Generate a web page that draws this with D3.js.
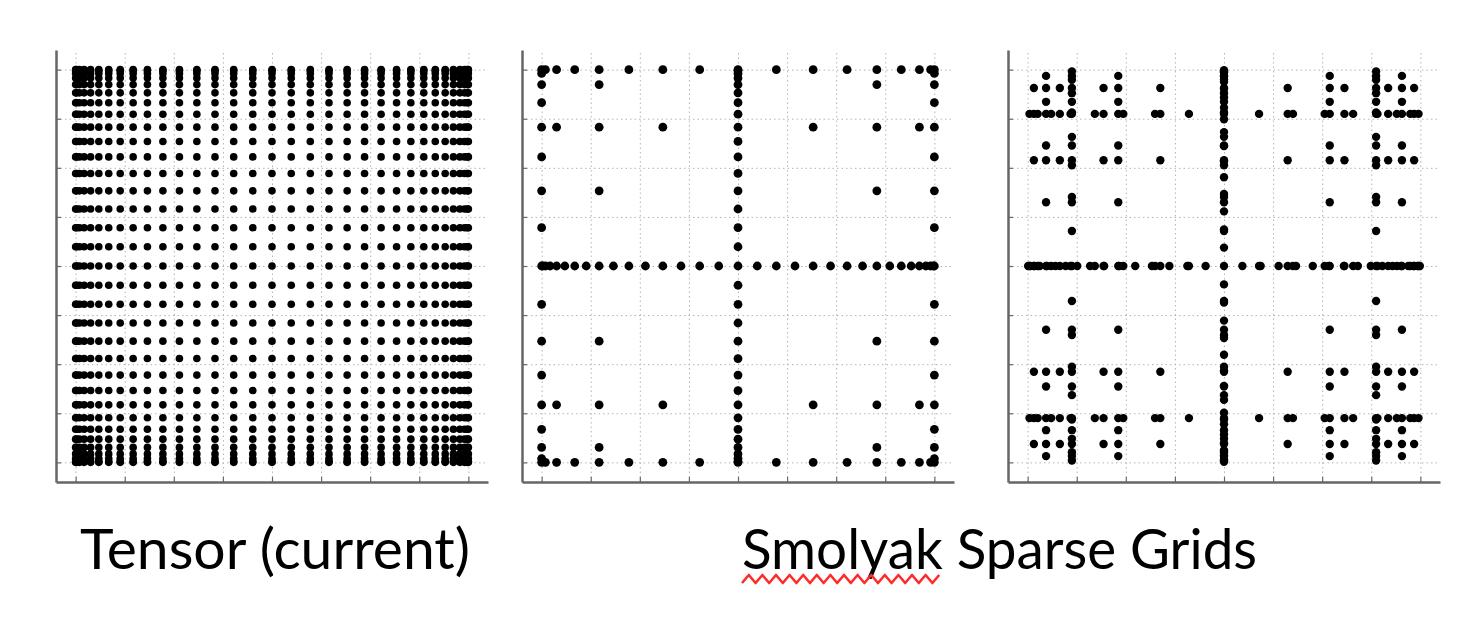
<!DOCTYPE html>
<html>
<head>
<meta charset="utf-8">
<script src="https://cdn.jsdelivr.net/npm/d3@7"></script>
<style>
  html, body { margin: 0; padding: 0; background: #ffffff; }
  svg { display: block; }
</style>
</head>
<body>
<svg id="chart" width="1474" height="618"></svg>
<script>
// ---------------- DATA ----------------
const tickValues = [-1, -0.75, -0.5, -0.25, 0, 0.25, 0.5, 0.75, 1];

// Clenshaw-Curtis (Chebyshev extrema) nodes, nested levels 0..5 (1,3,5,9,17,33 points)
const ccLevel0 = [0];
const ccLevel1 = [-1, 0, 1];
const ccLevel2 = [-1, -0.7071, 0, 0.7071, 1];
const ccLevel3 = [-1, -0.9239, -0.7071, -0.3827, 0, 0.3827, 0.7071, 0.9239, 1];
const ccLevel4 = [-1, -0.9808, -0.9239, -0.8315, -0.7071, -0.5556, -0.3827, -0.1951, 0,
                  0.1951, 0.3827, 0.5556, 0.7071, 0.8315, 0.9239, 0.9808, 1];
const ccLevel5 = [-1, -0.9952, -0.9808, -0.9569, -0.9239, -0.8819, -0.8315, -0.7730, -0.7071,
                  -0.6344, -0.5556, -0.4714, -0.3827, -0.2903, -0.1951, -0.0980, 0,
                  0.0980, 0.1951, 0.2903, 0.3827, 0.4714, 0.5556, 0.6344, 0.7071,
                  0.7730, 0.8315, 0.8819, 0.9239, 0.9569, 0.9808, 0.9952, 1];

// Gauss-Legendre nodes (non-nested), levels 0..5 (1,3,5,9,17,33 points)
const glLevel0 = [0];
const glLevel1 = [-0.7746, 0, 0.7746];
const glLevel2 = [-0.9062, -0.5385, 0, 0.5385, 0.9062];
const glLevel3 = [-0.9682, -0.8360, -0.6134, -0.3243, 0, 0.3243, 0.6134, 0.8360, 0.9682];
const glLevel4 = [-0.9906, -0.9488, -0.8802, -0.7815, -0.6577, -0.5127, -0.3512, -0.1785, 0,
                  0.1785, 0.3512, 0.5127, 0.6577, 0.7815, 0.8802, 0.9488, 0.9906];
const glLevel5 = [-0.9974, -0.9864, -0.9668, -0.9387, -0.9023, -0.8580, -0.8062, -0.7473,
                  -0.6818, -0.6104, -0.5336, -0.4521, -0.3668, -0.2782, -0.1866, -0.0936, 0,
                  0.0936, 0.1866, 0.2782, 0.3668, 0.4521, 0.5336, 0.6104, 0.6818,
                  0.7473, 0.8062, 0.8580, 0.9023, 0.9387, 0.9668, 0.9864, 0.9974];

const smolyakLevel = 5;
const captions = ["Tensor (current)", "Smolyak Sparse Grids"];
const misspelledWord = "Smolyak";

// ---------------- BUILD POINT SETS ----------------
const ccLevels = [ccLevel0, ccLevel1, ccLevel2, ccLevel3, ccLevel4, ccLevel5];
const glLevels = [glLevel0, glLevel1, glLevel2, glLevel3, glLevel4, glLevel5];

function tensor(xs, ys) {
  const pts = [];
  xs.forEach(x => ys.forEach(y => pts.push([x, y])));
  return pts;
}
function smolyak(levels, L) {
  const seen = new Map();
  for (let i = 0; i <= L; i++) {
    for (let j = 0; i + j <= L; j++) {
      tensor(levels[i], levels[j]).forEach(p => {
        const k = p[0].toFixed(4) + "," + p[1].toFixed(4);
        if (!seen.has(k)) seen.set(k, p);
      });
    }
  }
  return Array.from(seen.values());
}

const tensorPts = tensor(ccLevel5, ccLevel5);
const smolyakCCPts = smolyak(ccLevels, smolyakLevel);
const smolyakGLPts = smolyak(glLevels, smolyakLevel);

// ---------------- DRAW ----------------
const svg = d3.select("#chart");
const plotSize = 432, plotTop = 50;
const panels = [
  { left: 56,   pts: tensorPts,    r: 3.8 },
  { left: 522,  pts: smolyakCCPts, r: 4.4 },
  { left: 1008, pts: smolyakGLPts, r: 4.2 }
];

panels.forEach(p => {
  const x = d3.scaleLinear().domain([-1.1, 1.1]).range([p.left, p.left + plotSize]);
  const y = d3.scaleLinear().domain([-1.1, 1.1]).range([plotTop + plotSize, plotTop]);
  const g = svg.append("g");

  // dotted grid
  const gx = g.append("g")
    .attr("transform", `translate(0,${plotTop + plotSize})`)
    .call(d3.axisBottom(x).tickValues(tickValues).tickFormat("").tickSizeInner(-plotSize).tickSizeOuter(0));
  const gy = g.append("g")
    .attr("transform", `translate(${p.left},0)`)
    .call(d3.axisLeft(y).tickValues(tickValues).tickFormat("").tickSizeInner(-plotSize).tickSizeOuter(0));
  [gx, gy].forEach(a => {
    a.select(".domain").remove();
    a.selectAll(".tick line")
      .attr("stroke", "#b4b4b4").attr("stroke-width", 1).attr("stroke-dasharray", "1.5,3");
  });

  // points
  g.append("g").selectAll("circle")
    .data(p.pts)
    .join("circle")
    .attr("cx", d => x(d[0]))
    .attr("cy", d => y(d[1]))
    .attr("r", p.r)
    .attr("fill", "#000");

  // axes (left + bottom) with small inward ticks
  const ax = g.append("g")
    .attr("transform", `translate(0,${plotTop + plotSize})`)
    .call(d3.axisBottom(x).tickValues(tickValues).tickFormat("").tickSizeInner(-5).tickSizeOuter(0));
  const ay = g.append("g")
    .attr("transform", `translate(${p.left},0)`)
    .call(d3.axisLeft(y).tickValues(tickValues).tickFormat("").tickSizeInner(-5).tickSizeOuter(0));
  [ax, ay].forEach(a => {
    a.select(".domain").attr("stroke", "#666").attr("stroke-width", 2.5);
    a.selectAll(".tick line").attr("stroke", "#666").attr("stroke-width", 1.2);
  });
});

// captions
const captionPos = [{ x: 80, w: 390 }, { x: 742, w: 515 }];
captions.forEach((t, i) => {
  const txt = svg.append("text")
    .attr("x", captionPos[i].x)
    .attr("y", 569)
    .attr("font-family", "Lato, 'Open Sans', sans-serif")
    .attr("font-size", 56)
    .attr("fill", "#000")
    .text(t);
  const len = txt.node().getComputedTextLength();
  if (Math.abs(len - captionPos[i].w) > 4) {
    txt.attr("textLength", captionPos[i].w).attr("lengthAdjust", "spacingAndGlyphs");
  }
  if (t.startsWith(misspelledWord)) {
    const node = txt.node();
    const x0 = node.getStartPositionOfChar(0).x;
    const x1 = node.getEndPositionOfChar(misspelledWord.length - 1).x;
    const step = 6.8;
    const pts = [];
    let k = 0;
    for (let xx = x0; xx <= x1; xx += step, k++) pts.push([xx, k % 2 ? 575 : 583]);
    svg.append("path")
      .attr("d", d3.line()(pts))
      .attr("fill", "none")
      .attr("stroke", "#ff2a2a")
      .attr("stroke-width", 2.6)
      .attr("stroke-linejoin", "round");
  }
});
</script>
</body>
</html>
